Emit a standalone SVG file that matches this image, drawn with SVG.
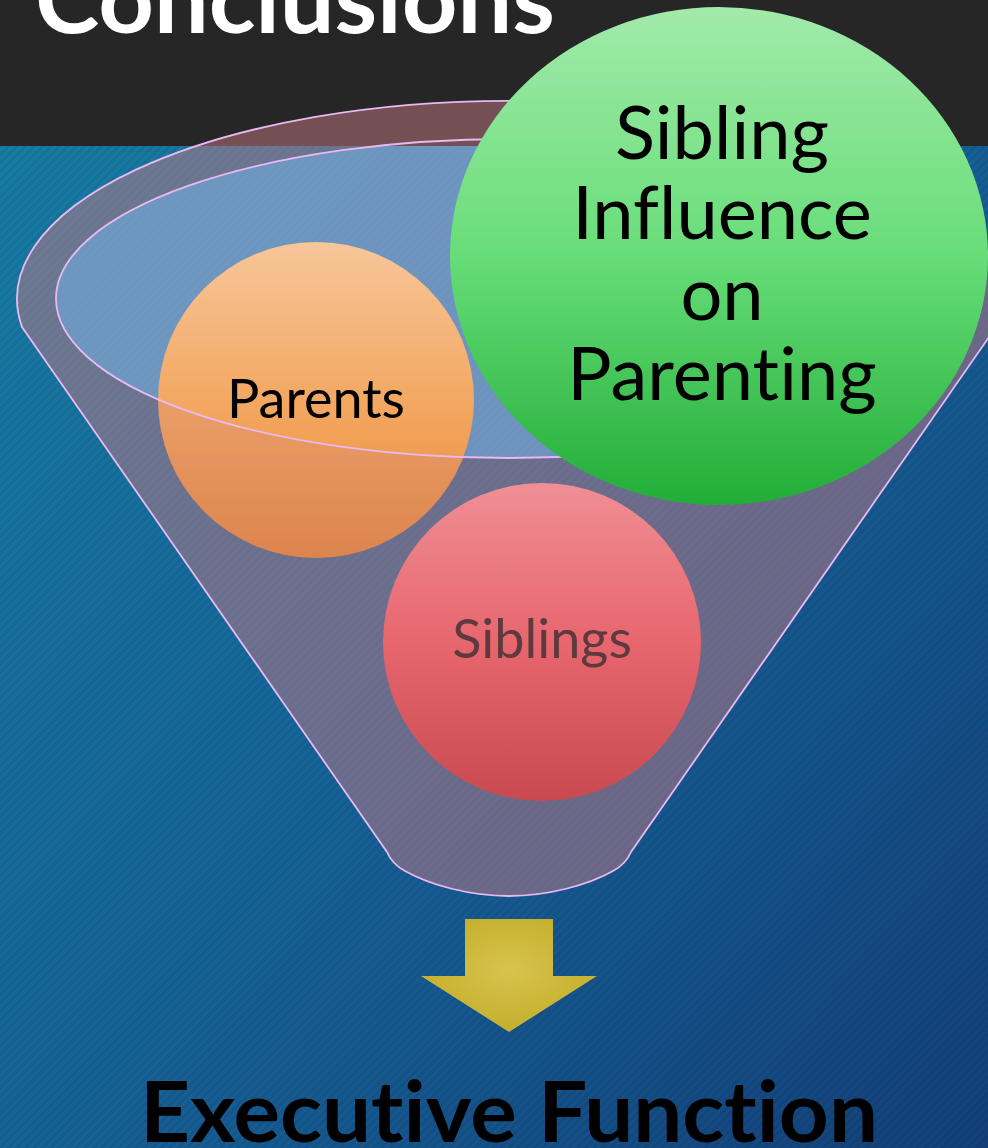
<svg xmlns="http://www.w3.org/2000/svg" width="988" height="1148" viewBox="0 0 988 1148">
  <style>
    .lbl { font-family: Lato, "Open Sans", "Liberation Sans", sans-serif; text-anchor: middle; font-variant-ligatures: none; font-feature-settings: "liga" 0, "clig" 0; }
    .rim { fill: none; stroke: #e8b9f3; stroke-width: 1.8; }
    .big { font-size: 74px; fill: #000000; }
  </style>
  <defs>
    <linearGradient id="bg" x1="0" y1="0" x2="1" y2="1">
      <stop offset="0" stop-color="#1880a6"/>
      <stop offset="0.5" stop-color="#16649a"/>
      <stop offset="1" stop-color="#13407a"/>
    </linearGradient>
    <pattern id="stripes" width="6" height="6" patternUnits="userSpaceOnUse" patternTransform="rotate(-45)">
      <rect width="6" height="3" fill="#000" opacity="0.07"/>
    </pattern>
    <linearGradient id="gParents" x1="0" y1="0" x2="0" y2="1">
      <stop offset="0" stop-color="#f7c699"/>
      <stop offset="0.6" stop-color="#f2a258"/>
      <stop offset="1" stop-color="#e5873f"/>
    </linearGradient>
    <linearGradient id="gSiblings" x1="0" y1="0" x2="0" y2="1">
      <stop offset="0" stop-color="#ef8f95"/>
      <stop offset="0.5" stop-color="#e8666e"/>
      <stop offset="1" stop-color="#c84a50"/>
    </linearGradient>
    <linearGradient id="gGreen" x1="0" y1="0" x2="0" y2="1">
      <stop offset="0" stop-color="#a2eaaa"/>
      <stop offset="0.5" stop-color="#67dd78"/>
      <stop offset="1" stop-color="#22ad38"/>
    </linearGradient>
    <radialGradient id="gArrow" cx="0.5" cy="0.45" r="0.6">
      <stop offset="0" stop-color="#d8c44e"/>
      <stop offset="1" stop-color="#c3ac28"/>
    </radialGradient>
    <clipPath id="belowHeader"><rect x="0" y="146" width="988" height="1002"/></clipPath>
    <clipPath id="parentsClip"><circle cx="316" cy="400" r="158"/></clipPath>
  </defs>

  <g id="background">
    <rect x="0" y="0" width="988" height="1148" fill="url(#bg)"/>
    <rect x="0" y="146" width="988" height="1002" fill="url(#stripes)"/>
    <rect x="0" y="0" width="988" height="146" fill="#262626"/>
  </g>

  <g id="title">
    <text x="295" y="33" class="lbl" font-weight="bold" font-size="94" fill="#ffffff" textLength="520" lengthAdjust="spacingAndGlyphs">Conclusions</text>
  </g>

  <g id="funnel">
    <path d="M22,327 A492,198 0 1 1 996,327 L631,852 Q626,864 613,871 C588,885 548,896 509,896 C470,896 430,885 405,871 Q392,864 387,852 Z" fill="#c27a84" fill-opacity="0.5"/>
    <ellipse cx="509" cy="298.5" rx="453" ry="159.5" fill="#70b7ef" fill-opacity="0.5" clip-path="url(#belowHeader)"/>
  </g>

  <g id="node-siblings">
    <circle cx="542" cy="642" r="159" fill="url(#gSiblings)"/>
    <text x="542" y="658" class="lbl" font-size="54" fill="#5e3a3e">Siblings</text>
  </g>

  <g id="node-parents">
    <circle cx="316" cy="400" r="158" fill="url(#gParents)"/>
    <path clip-path="url(#parentsClip)" fill-rule="evenodd" fill="#c27a84" fill-opacity="0.22" d="M0,146 H988 V900 H0 Z M56,298.5 A453,159.5 0 1 0 962,298.5 A453,159.5 0 1 0 56,298.5 Z"/>
    <text x="316" y="418" class="lbl" font-size="54" fill="#000000">Parents</text>
  </g>

  <g id="funnel-outline">
    <path class="rim" d="M22,327 A492,198 0 1 1 996,327 L631,852 Q626,864 613,871 C588,885 548,896 509,896 C470,896 430,885 405,871 Q392,864 387,852 Z"/>
    <ellipse class="rim" cx="509" cy="298.5" rx="453" ry="159.5"/>
  </g>

  <g id="node-sibling-influence">
    <ellipse cx="719" cy="256" rx="269" ry="249" fill="url(#gGreen)"/>
    <text x="722" y="159" class="lbl big">Sibling</text>
    <text x="722" y="239" class="lbl big">Influence</text>
    <text x="722" y="320" class="lbl big">on</text>
    <text x="722" y="400" class="lbl big">Parenting</text>
  </g>

  <g id="connectors">
    <polygon points="465,919 553,919 553,976 597,976 509,1032 421,976 465,976" fill="url(#gArrow)"/>
  </g>

  <g id="node-executive-function">
    <text x="509" y="1142" class="lbl" font-weight="bold" font-size="84" fill="#000000" textLength="738" lengthAdjust="spacingAndGlyphs">Executive Function</text>
  </g>
</svg>
